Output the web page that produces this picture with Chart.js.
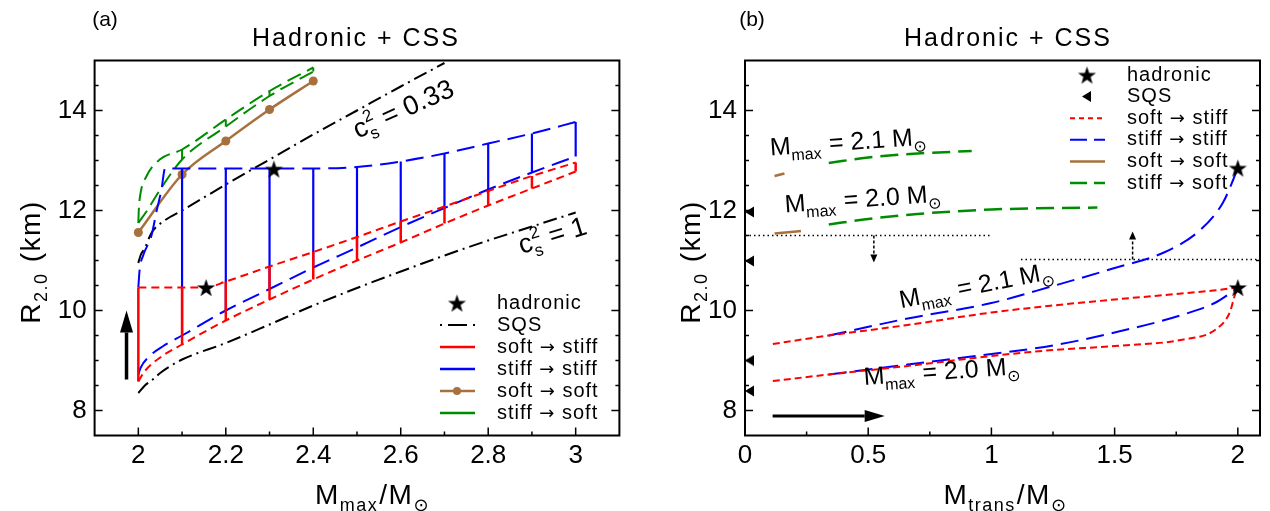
<!DOCTYPE html>
<html>
<head>
<meta charset="utf-8">
<title>Hadronic + CSS</title>
<script src="https://cdn.jsdelivr.net/npm/chart.js@4.4.1/dist/chart.umd.min.js"></script>
<style>
  html, body { margin: 0; background: #fff; }
  #wrap { position: relative; width: 1270px; height: 511px; overflow: hidden; }
  canvas { position: absolute; top: 0; }
  #chartA { left: 0; }
  #chartB { left: 650px; }
</style>
</head>
<body>
<div id="wrap">
  <canvas id="chartA" width="650" height="511"></canvas>
  <canvas id="chartB" width="620" height="511"></canvas>
</div>
<script>
const FONT = "'Liberation Sans', Arial, 'DejaVu Sans', sans-serif";
const ARROW_FONT = "'DejaVu Sans', sans-serif";
const RED = "#ff0000", BLUE = "#0000ff", GREEN = "#008c00", BROWN = "#a8703c";

// axes
const xTicksA = [2, 2.2, 2.4, 2.6, 2.8, 3];
const xMinorA = [2.1, 2.3, 2.5, 2.7, 2.9];
const xTicksB = [0, 0.5, 1, 1.5, 2];
const xMinorB = [0.25, 0.75, 1.25, 1.75];
const yTicks = [8, 10, 12, 14];
const yMinor = [8.5, 9, 9.5, 10.5, 11, 11.5, 12.5, 13, 13.5, 14.5];

// ---- panel (a): R_2.0 vs M_max ----
const sqs033X = [2.0, 2.005, 2.015, 2.03, 2.06, 2.1, 2.2, 2.3, 2.4, 2.5, 2.6, 2.7];
const sqs033R = [10.95, 11.1, 11.25, 11.55, 11.8, 12.0, 12.52, 13.02, 13.52, 14.0, 14.48, 14.95];
const sqs1X = [2.0, 2.015, 2.033, 2.05, 2.07, 2.1, 2.2, 2.3, 2.4, 2.5, 2.6, 2.7, 2.8, 2.9, 3.0];
const sqs1R = [8.35, 8.5, 8.62, 8.75, 8.87, 9.02, 9.35, 9.72, 10.1, 10.45, 10.78, 11.1, 11.4, 11.68, 11.96];

// stiff -> stiff
const blUpX = [2.0, 2.003, 2.011, 2.03, 2.042, 2.053, 2.061, 2.2, 2.4, 2.5, 2.6, 2.7, 2.8, 2.9, 3.0];
const blUpR = [10.46, 10.82, 11.1, 11.5, 12.0, 12.42, 12.84, 12.84, 12.84, 12.87, 12.98, 13.14, 13.34, 13.54, 13.77];
const blLoX = [2.0, 2.005, 2.026, 2.057, 2.1, 2.2, 2.3, 2.4, 2.5, 2.6, 2.7, 2.8, 2.9, 3.0];
const blLoR = [8.72, 8.85, 9.09, 9.29, 9.5, 10.0, 10.43, 10.86, 11.26, 11.67, 12.05, 12.42, 12.76, 13.08];
const blBarX = [2.1, 2.2, 2.3, 2.4, 2.5, 2.6, 2.7, 2.8, 2.9, 3.0];
const blBarLo = [9.5, 10.0, 10.43, 10.86, 11.26, 11.67, 12.05, 12.42, 12.76, 13.08];
const blBarHi = [12.84, 12.84, 12.84, 12.84, 12.87, 12.98, 13.14, 13.34, 13.54, 13.77];

// soft -> stiff
const rdUpX = [2.0, 2.155, 2.2, 2.3, 2.4, 2.5, 2.6, 2.7, 2.8, 2.9, 3.0];
const rdUpR = [10.46, 10.46, 10.58, 10.88, 11.17, 11.47, 11.78, 12.08, 12.39, 12.69, 12.96];
const rdLoX = [2.0, 2.015, 2.05, 2.1, 2.2, 2.3, 2.4, 2.5, 2.6, 2.7, 2.8, 2.9, 3.0];
const rdLoR = [8.58, 8.79, 9.06, 9.32, 9.8, 10.22, 10.62, 11.0, 11.36, 11.74, 12.1, 12.44, 12.78];
const rdBarX = [2.0, 2.1, 2.2, 2.3, 2.4, 2.5, 2.6, 2.7, 2.8, 2.9, 3.0];
const rdBarLo = [8.58, 9.32, 9.8, 10.22, 10.62, 11.0, 11.36, 11.74, 12.1, 12.44, 12.78];
const rdBarHi = [10.46, 10.46, 10.58, 10.88, 11.17, 11.47, 11.78, 12.08, 12.39, 12.69, 12.96];

// stiff -> soft
const grUpX = [2.0, 2.001, 2.004, 2.019, 2.049, 2.1, 2.2, 2.3, 2.4];
const grUpR = [11.75, 12.0, 12.29, 12.69, 13.02, 13.22, 13.82, 14.39, 14.86];
const grLoX = [2.0, 2.02, 2.05, 2.1, 2.2, 2.3, 2.4];
const grLoR = [11.75, 12.0, 12.42, 13.02, 13.68, 14.29, 14.78];
const grBarX = [2.1, 2.2, 2.3, 2.4];
const grBarLo = [13.02, 13.68, 14.29, 14.78];
const grBarHi = [13.22, 13.82, 14.39, 14.86];

// soft -> soft
const brX = [2.0, 2.1, 2.2, 2.3, 2.4];
const brR = [11.56, 12.72, 13.39, 14.02, 14.59];

const hadX = [2.31, 2.155];
const hadR = [12.83, 10.46];
const arrowA = [1.973, 8.62, 1.973, 10.0];

// ---- panel (b): R_2.0 vs M_trans ----
const soSt21X = [0.113, 0.34, 0.66, 1.0, 1.25, 1.5, 1.75, 1.9, 2.0];
const soSt21R = [9.33, 9.5, 9.71, 9.96, 10.1, 10.22, 10.33, 10.4, 10.46];
const soSt20X = [0.113, 0.34, 0.66, 1.0, 1.25, 1.5, 1.78, 1.91, 1.967, 1.987, 2.0];
const soSt20R = [8.59, 8.72, 8.89, 9.09, 9.21, 9.29, 9.42, 9.62, 9.96, 10.29, 10.46];
const stSt21X = [0.34, 0.66, 1.0, 1.25, 1.5, 1.7, 1.85, 1.94, 1.98, 2.0];
const stSt21R = [9.5, 9.84, 10.15, 10.49, 10.85, 11.16, 11.62, 12.16, 12.6, 12.85];
const stSt20X = [0.34, 0.66, 1.0, 1.25, 1.5, 1.78, 1.91, 1.97, 2.0];
const stSt20R = [8.72, 8.92, 9.13, 9.3, 9.56, 9.92, 10.16, 10.35, 10.46];
const stSo21X = [0.34, 0.5, 0.7, 0.92];
const stSo21R = [12.95, 13.06, 13.14, 13.19];
const stSo20X = [0.34, 0.5, 0.7, 1.0, 1.43];
const stSo20R = [11.72, 11.83, 11.93, 12.02, 12.06];
const soSo21X = [0.12, 0.16];
const soSo21R = [12.69, 12.74];
const soSo20X = [0.12, 0.227];
const soSo20R = [11.54, 11.59];

const hadTransX = [2.0, 2.0];
const hadTransR = [12.85, 10.46];
const sqsTransX = [0, 0, 0, 0];
const sqsTransR = [11.97, 10.99, 9.0, 8.39];

const cutLoX = [0, 1.0];
const cutLoR = [11.5, 11.5];
const cutHiX = [1.12, 2.09];
const cutHiR = [11.02, 11.02];
const arrowB = [0.112, 7.89, 0.567, 7.89];
const cutArrowLo = [0.523, 11.5, 0.523, 10.96];
const cutArrowHi = [1.573, 11.02, 1.573, 11.58];

// ---- helpers ----
const pts = (xs, ys) => xs.map((x, i) => ({ x, y: ys[i] }));
const bars = (xs, lo, hi) => xs.flatMap((x, i) => [{ x, y: lo[i] }, { x, y: hi[i] }, { x, y: null }]);

function line(data, color, dash, width, extra) {
  return Object.assign({
    data, borderColor: color, backgroundColor: color, borderWidth: width,
    borderDash: dash, showLine: true, pointRadius: 0, fill: false,
    cubicInterpolationMode: 'monotone'
  }, extra || {});
}

function starImage(r) {
  const c = document.createElement('canvas');
  const s = Math.ceil(2 * r + 2);
  c.width = c.height = s;
  const g = c.getContext('2d');
  g.translate(s / 2, s / 2 + r * 0.1);
  g.beginPath();
  for (let k = 0; k < 10; k++) {
    const rad = k % 2 ? r * 0.4 : r;
    const a = -Math.PI / 2 + k * Math.PI / 5;
    g.lineTo(rad * Math.cos(a), rad * Math.sin(a));
  }
  g.closePath();
  g.fillStyle = '#000';
  g.fill();
  return c;
}

function triImage() {
  // left-pointing triangle, tip at the image centre
  const c = document.createElement('canvas');
  c.width = 20; c.height = 12;
  const g = c.getContext('2d');
  g.beginPath(); g.moveTo(10, 6); g.lineTo(19, 0.5); g.lineTo(19, 11.5); g.closePath();
  g.fillStyle = '#000'; g.fill();
  return c;
}

const STAR = starImage(9.5);
const TRI = triImage();

function rich(ctx, parts, x, y, size, angle, align, spacing) {
  const sm = Math.round(size * 0.64);
  const big = size + 'px ' + FONT, small = sm + 'px ' + FONT;
  ctx.save();
  ctx.letterSpacing = (spacing || 0) + 'px';
  const w = parts.map(p => {
    if (p.t !== undefined) { ctx.font = big; return ctx.measureText(p.t).width; }
    ctx.font = small;
    return Math.max(p.sub ? ctx.measureText(p.sub).width : 0, p.sup ? ctx.measureText(p.sup).width : 0) + 1;
  });
  const total = w.reduce((s, v) => s + v, 0);
  ctx.translate(x, y);
  ctx.rotate(angle * Math.PI / 180);
  ctx.textBaseline = 'alphabetic';
  ctx.textAlign = 'left';
  ctx.fillStyle = '#000';
  let cx = align === 'left' ? 0 : -total / 2;
  const base = size * 0.36;
  parts.forEach((p, i) => {
    if (p.t !== undefined) { ctx.font = big; ctx.fillText(p.t, cx, base); }
    else {
      ctx.font = small;
      if (p.sub) ctx.fillText(p.sub, cx, base + size * 0.26);
      if (p.sup) ctx.fillText(p.sup, cx, base - size * 0.42);
    }
    cx += w[i];
  });
  ctx.restore();
}

function arrow(ctx, x0, y0, x1, y1, o) {
  const ang = Math.atan2(y1 - y0, x1 - x0);
  const bx = x1 - o.head * Math.cos(ang), by = y1 - o.head * Math.sin(ang);
  ctx.save();
  ctx.strokeStyle = ctx.fillStyle = '#000';
  ctx.lineWidth = o.width;
  ctx.setLineDash(o.dash || []);
  ctx.beginPath(); ctx.moveTo(x0, y0); ctx.lineTo(bx, by); ctx.stroke();
  ctx.setLineDash([]);
  ctx.beginPath();
  ctx.moveTo(x1, y1);
  ctx.lineTo(bx + o.half * Math.sin(ang), by - o.half * Math.cos(ang));
  ctx.lineTo(bx - o.half * Math.sin(ang), by + o.half * Math.cos(ang));
  ctx.closePath(); ctx.fill();
  ctx.restore();
}

// legend text; the arrow glyph is taken from DejaVu Sans, which draws it full size
function legendText(ctx, label, x, y, size) {
  ctx.save();
  ctx.letterSpacing = '1px';
  ctx.fillStyle = '#000'; ctx.textBaseline = 'middle'; ctx.textAlign = 'left';
  const bits = label.split('\u2192');
  let cx = x;
  bits.forEach((b, i) => {
    ctx.font = size + 'px ' + FONT;
    ctx.fillText(b, cx, y);
    cx += ctx.measureText(b).width;
    if (i < bits.length - 1) {
      ctx.font = (size - 2) + 'px ' + ARROW_FONT;
      ctx.fillText('\u2192', cx, y + 1);
      cx += ctx.measureText('\u2192').width;
    }
  });
  ctx.restore();
}

function drawLegend(ctx, items, g) {
  items.forEach((it, i) => {
    const y = g.y + i * g.step;
    ctx.save();
    if (it.marker === 'star') {
      ctx.drawImage(STAR, g.mx - STAR.width / 2, y - STAR.height / 2);
    } else if (it.marker === 'tri') {
      ctx.beginPath(); ctx.moveTo(g.mx - 5, y); ctx.lineTo(g.mx + 4, y - 5.5); ctx.lineTo(g.mx + 4, y + 5.5);
      ctx.closePath(); ctx.fillStyle = '#000'; ctx.fill();
    } else {
      ctx.strokeStyle = it.color; ctx.lineWidth = it.width;
      ctx.setLineDash(it.dash || []);
      ctx.beginPath(); ctx.moveTo(g.x0, y); ctx.lineTo(g.x1, y); ctx.stroke();
      if (it.dot) {
        ctx.beginPath(); ctx.arc(g.mx, y, 4, 0, 2 * Math.PI); ctx.fillStyle = it.color; ctx.fill();
      }
    }
    ctx.restore();
    legendText(ctx, it.label, g.xt, y, g.size);
  });
}

function decor(cfg) {
  return {
    id: 'decor',
    afterDraw(chart) {
      const { ctx, chartArea: a } = chart;
      const X = v => chart.scales.x.getPixelForValue(v);
      const Y = v => chart.scales.y.getPixelForValue(v);
      ctx.save();
      ctx.strokeStyle = '#000';
      ctx.lineWidth = 1.5;
      ctx.beginPath();
      const vt = (vals, len) => vals.forEach(v => { ctx.moveTo(X(v), a.bottom); ctx.lineTo(X(v), a.bottom - len); });
      const ht = (vals, len) => vals.forEach(v => {
        ctx.moveTo(a.left, Y(v)); ctx.lineTo(a.left + len, Y(v));
        ctx.moveTo(a.right, Y(v)); ctx.lineTo(a.right - len, Y(v));
      });
      vt(cfg.xTicks, 8); vt(cfg.xMinor, 4);
      ht(yTicks, 8); ht(yMinor, 4);
      ctx.stroke();
      ctx.lineWidth = 2;
      ctx.strokeRect(a.left, a.top, a.right - a.left, a.bottom - a.top);
      ctx.restore();

      cfg.arrows.forEach(([d, o]) => arrow(ctx, X(d[0]), Y(d[1]), X(d[2]), Y(d[3]), o));
      cfg.labels.forEach(l => rich(ctx, l.parts, X(l.at[0]), Y(l.at[1]), l.size, l.angle, 'center', 0));
      drawLegend(ctx, cfg.legend, cfg.legendBox);

      rich(ctx, [{ t: 'Hadronic + CSS' }], cfg.titleX, 37, 25, 0, 'center', 2);
      rich(ctx, [{ t: cfg.tag }], cfg.tagX, 18, 21, 0, 'center', 0);
      rich(ctx, cfg.xTitle, cfg.xTitleX, 494, 28, 0, 'center', 1.5);
      rich(ctx, [{ t: 'R' }, { sub: '2.0' }, { t: ' (km)' }], cfg.yTitleX, 262, 28, -90, 'center', 1.5);
    }
  };
}

function axis(min, max, ticks, fit, pad) {
  return {
    type: 'linear', min, max,
    grid: { display: false, drawTicks: false },
    border: { display: false },
    ticks: { color: '#000', padding: pad, font: { size: 26, family: FONT }, callback: v => String(v) },
    afterBuildTicks: s => { s.ticks = ticks.map(value => ({ value })); },
    afterFit: fit
  };
}

function makeChart(id, cfg) {
  return new Chart(document.getElementById(id), {
    type: 'scatter',
    data: { datasets: cfg.datasets },
    options: {
      responsive: false, animation: false, events: [],
      layout: { padding: cfg.padding },
      plugins: { legend: { display: false }, tooltip: { enabled: false } },
      scales: {
        x: axis(cfg.xMin, cfg.xMax, cfg.xTicks, s => { s.height = cfg.xH; }, 5),
        y: axis(7.5, 15, yTicks, s => { s.width = cfg.yW; }, 8)
      }
    },
    plugins: [decor(cfg)]
  });
}

Chart.defaults.font.family = FONT;
Chart.defaults.color = '#000';

const SQS_DASH = [14, 5, 2, 5];
const mmax = v => [{ t: 'M' }, { sub: 'max' }, { t: ' = ' + v + ' M' }, { sub: '\u2299' }];

makeChart('chartA', {
  xMin: 1.9, xMax: 3.1, xTicks: xTicksA, xMinor: xMinorA,
  padding: { left: 0, right: 30.6, top: 60.5, bottom: 0 }, xH: 75.5, yW: 94.6,
  titleX: 356, tagX: 105, yTitleX: 30, xTitleX: 373, tag: '(a)',
  xTitle: [{ t: 'M' }, { sub: 'max' }, { t: '/M' }, { sub: '\u2299' }],
  datasets: [
    { data: pts(hadX, hadR), pointStyle: STAR, pointRadius: 9, showLine: false },
    line(bars(rdBarX, rdBarLo, rdBarHi), RED, [], 2.5, { cubicInterpolationMode: 'default' }),
    line(pts(rdUpX, rdUpR), RED, [8, 5], 2),
    line(pts(rdLoX, rdLoR), RED, [8, 5], 2),
    line(bars(blBarX, blBarLo, blBarHi), BLUE, [], 2.2, { cubicInterpolationMode: 'default' }),
    line(pts(blUpX, blUpR), BLUE, [18, 8], 2),
    line(pts(blLoX, blLoR), BLUE, [18, 8], 2),
    line(pts(brX, brR), BROWN, [], 2.5, { pointRadius: 4.5, pointBackgroundColor: BROWN, pointBorderWidth: 0 }),
    line(bars(grBarX, grBarLo, grBarHi), GREEN, [], 2, { cubicInterpolationMode: 'default' }),
    line(pts(grUpX, grUpR), GREEN, [15, 7], 2),
    line(pts(grLoX, grLoR), GREEN, [15, 7], 2),
    line(pts(sqs033X, sqs033R), '#000', SQS_DASH, 2),
    line(pts(sqs1X, sqs1R), '#000', SQS_DASH, 2)
  ],
  arrows: [[arrowA, { width: 3.5, head: 22, half: 6.5 }]],
  labels: [
    { parts: [{ t: 'c' }, { sup: '2', sub: 's' }, { t: ' = 0.33' }], at: [2.605, 14.05], angle: -24, size: 27 },
    { parts: [{ t: 'c' }, { sup: '2', sub: 's' }, { t: ' = 1' }], at: [2.946, 11.52], angle: -17, size: 27 }
  ],
  legend: [
    { label: 'hadronic', marker: 'star' },
    { label: 'SQS', color: '#000', width: 2, dash: [2, 6, 19, 6] },
    { label: 'soft \u2192 stiff', color: RED, width: 2.5 },
    { label: 'stiff \u2192 stiff', color: BLUE, width: 2.5 },
    { label: 'soft \u2192 soft', color: BROWN, width: 2.5, dot: true },
    { label: 'stiff \u2192 soft', color: GREEN, width: 2.5 }
  ],
  legendBox: { x0: 440, x1: 475, mx: 457, xt: 497, y: 303, step: 22, size: 20 }
});

makeChart('chartB', {
  xMin: 0, xMax: 2.09, xTicks: xTicksB, xMinor: xMinorB,
  padding: { left: 0, right: 2.5, top: 60.5, bottom: 0 }, xH: 75.5, yW: 95,
  titleX: 358, tagX: 102, yTitleX: 40, xTitleX: 356, tag: '(b)',
  xTitle: [{ t: 'M' }, { sub: 'trans' }, { t: '/M' }, { sub: '\u2299' }],
  datasets: [
    { data: pts(hadTransX, hadTransR), pointStyle: STAR, pointRadius: 9, showLine: false },
    { data: pts(sqsTransX, sqsTransR), pointStyle: TRI, pointRadius: 5, showLine: false },
    line(pts(soSt21X, soSt21R), RED, [7, 4], 2),
    line(pts(soSt20X, soSt20R), RED, [7, 4], 2),
    line(pts(stSt21X, stSt21R), BLUE, [18, 8], 2),
    line(pts(stSt20X, stSt20R), BLUE, [18, 8], 2),
    line(pts(soSo21X, soSo21R), BROWN, [], 2.5),
    line(pts(soSo20X, soSo20R), BROWN, [], 2.5),
    line(pts(stSo21X, stSo21R), GREEN, [18, 8], 2.5),
    line(pts(stSo20X, stSo20R), GREEN, [18, 8], 2.5),
    line(pts(cutLoX, cutLoR), '#000', [1.5, 3], 1.5, { cubicInterpolationMode: 'default' }),
    line(pts(cutHiX, cutHiR), '#000', [1.5, 3], 1.5, { cubicInterpolationMode: 'default' })
  ],
  arrows: [
    [arrowB, { width: 3, head: 20, half: 6 }],
    [cutArrowLo, { width: 1.5, head: 8, half: 3.5, dash: [3, 2] }],
    [cutArrowHi, { width: 1.5, head: 8, half: 3.5, dash: [3, 2] }]
  ],
  labels: [
    { parts: mmax('2.1'), at: [0.42, 13.39], angle: -4, size: 25 },
    { parts: mmax('2.0'), at: [0.48, 12.25], angle: -4, size: 25 },
    { parts: mmax('2.1'), at: [0.94, 10.52], angle: -11, size: 25 },
    { parts: mmax('2.0'), at: [0.8, 8.8], angle: -4, size: 25 }
  ],
  legend: [
    { label: 'hadronic', marker: 'star' },
    { label: 'SQS', marker: 'tri' },
    { label: 'soft \u2192 stiff', color: RED, width: 2, dash: [5, 4] },
    { label: 'stiff \u2192 stiff', color: BLUE, width: 2, dash: [17, 7] },
    { label: 'soft \u2192 soft', color: BROWN, width: 2.5 },
    { label: 'stiff \u2192 soft', color: GREEN, width: 2.5, dash: [17, 7] }
  ],
  legendBox: { x0: 420, x1: 455, mx: 437, xt: 477, y: 75, step: 21.6, size: 20 }
});
</script>
</body>
</html>
